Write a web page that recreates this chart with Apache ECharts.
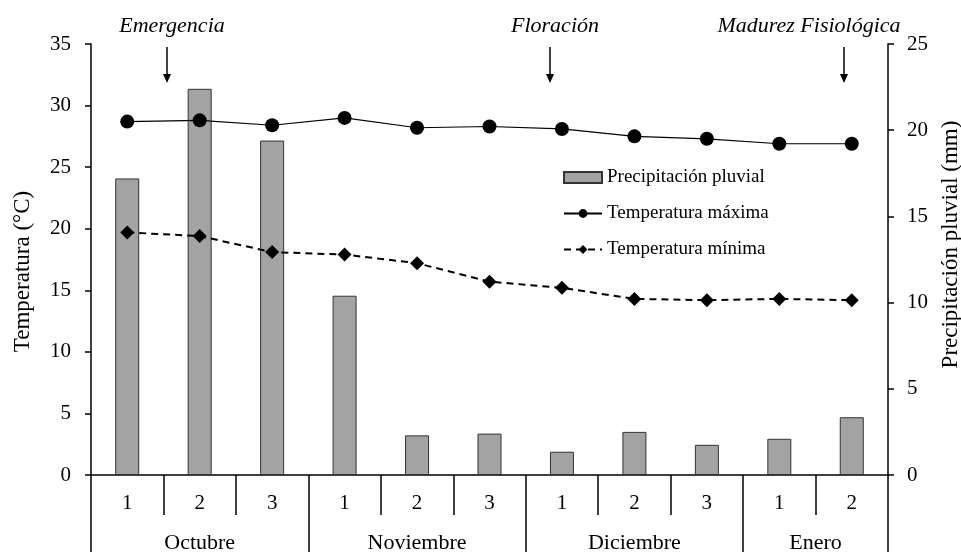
<!DOCTYPE html>
<html>
<head>
<meta charset="utf-8">
<script src="https://cdn.jsdelivr.net/npm/echarts@6/dist/echarts.min.js"></script>
<style>
  html, body { margin: 0; padding: 0; background: #fff; }
  #chart { width: 961px; height: 552px; }
</style>
</head>
<body>
<div id="chart"></div>
<script>
// decades of each month (ten-day periods)
const decades = ['1', '2', '3', '1', '2', '3', '1', '2', '3', '1', '2']
const months = ['Octubre', 'Noviembre', 'Diciembre', 'Enero']
const monthSpans = [3, 3, 3, 2]

// precipitation (mm), right axis
const precipitation = [17.2, 22.4, 19.4, 10.4, 2.3, 2.4, 1.35, 2.5, 1.75, 2.1, 3.35]
// temperatures (°C), left axis
const tempMax = [28.7, 28.8, 28.4, 29.0, 28.2, 28.3, 28.1, 27.5, 27.3, 26.9, 26.9]
const tempMin = [19.7, 19.4, 18.1, 17.9, 17.2, 15.7, 15.2, 14.3, 14.2, 14.3, 14.2]

const tempTicks = { min: 0, max: 35, interval: 5 }
const precTicks = { min: 0, max: 25, interval: 5 }

const serif = 'Liberation Serif'

// month boundaries and centers on a 0..11 scale
const monthBounds = [0]
const monthCenters = []
monthSpans.forEach(span => {
  const start = monthBounds[monthBounds.length - 1]
  monthCenters.push(start + span / 2)
  monthBounds.push(start + span)
})

const chart = echarts.init(document.getElementById('chart'))

/**
 * Arrow pointing down with a label above it
 */
function annotation(label, textX, arrowX) {
  return [
    {
      type: 'text',
      x: textX,
      y: 26,
      style: {
        text: label,
        font: 'italic 22px "Liberation Serif"',
        fill: '#000',
        align: 'center',
        verticalAlign: 'middle',
      },
    },
    {
      type: 'line',
      shape: { x1: arrowX, y1: 47, x2: arrowX, y2: 76 },
      style: { stroke: '#000', lineWidth: 1.5 },
    },
    {
      type: 'polygon',
      shape: { points: [[arrowX - 4, 74], [arrowX + 4, 74], [arrowX, 83]] },
      style: { fill: '#000' },
    },
  ]
}

const option = {
  animation: false,
  backgroundColor: '#fff',
  textStyle: { fontFamily: serif, color: '#000' },
  grid: {
    left: 91,
    right: 73,
    top: 44,
    bottom: 77,
    outerBoundsMode: 'none',
  },
  legend: {
    orient: 'vertical',
    left: 563,
    top: 168,
    padding: 0,
    itemGap: 17,
    itemWidth: 38,
    itemHeight: 11,
    textStyle: { fontFamily: serif, fontSize: 19, color: '#000' },
    data: [
      { name: 'Precipitación pluvial', icon: 'rect' },
      'Temperatura máxima',
      'Temperatura mínima',
    ],
  },
  xAxis: [
    {
      type: 'category',
      data: decades,
      boundaryGap: true,
      position: 'bottom',
      axisLine: { show: true, lineStyle: { color: '#000', width: 1.5 } },
      axisTick: { show: true, interval: 0, length: 40, lineStyle: { color: '#000', width: 1.5 } },
      axisLabel: { interval: 0, margin: 18, fontFamily: serif, fontSize: 21, color: '#000' },
      splitLine: { show: false },
    },
    {
      type: 'value',
      min: 0,
      max: decades.length,
      position: 'bottom',
      axisLine: { show: false },
      axisTick: {
        show: true,
        length: 77,
        customValues: monthBounds,
        lineStyle: { color: '#000', width: 1.5 },
      },
      axisLabel: {
        show: true,
        customValues: monthCenters,
        margin: 57,
        fontFamily: serif,
        fontSize: 22,
        color: '#000',
        formatter: (v) => months[monthCenters.indexOf(v)] || '',
      },
      splitLine: { show: false },
    },
  ],
  yAxis: [
    {
      type: 'value',
      position: 'left',
      min: tempTicks.min,
      max: tempTicks.max,
      interval: tempTicks.interval,
      name: 'Temperatura (°C)',
      nameLocation: 'middle',
      nameGap: 57,
      nameTextStyle: { fontFamily: serif, fontSize: 23, color: '#000', padding: [0, 24, 0, 0] },
      axisLine: { show: true, lineStyle: { color: '#000', width: 1.5 } },
      axisTick: { show: true, length: 6, lineStyle: { color: '#000', width: 1.5 } },
      axisLabel: { margin: 20, fontFamily: serif, fontSize: 21, color: '#000' },
      splitLine: { show: false },
    },
    {
      type: 'value',
      position: 'right',
      min: precTicks.min,
      max: precTicks.max,
      interval: precTicks.interval,
      name: 'Precipitación pluvial (mm)',
      nameLocation: 'middle',
      nameGap: 51,
      nameTextStyle: { fontFamily: serif, fontSize: 23, color: '#000', padding: [0, 0, 0, 30] },
      axisLine: { show: true, lineStyle: { color: '#000', width: 1.5 } },
      axisTick: { show: true, length: 6, lineStyle: { color: '#000', width: 1.5 } },
      axisLabel: { margin: 19, fontFamily: serif, fontSize: 21, color: '#000' },
      splitLine: { show: false },
    },
  ],
  series: [
    {
      name: 'Precipitación pluvial',
      type: 'bar',
      xAxisIndex: 0,
      yAxisIndex: 1,
      data: precipitation,
      barWidth: 24,
      itemStyle: { color: '#a3a3a3', borderColor: '#333', borderWidth: 1 },
      z: 1,
    },
    {
      name: 'Temperatura máxima',
      type: 'line',
      xAxisIndex: 0,
      yAxisIndex: 0,
      data: tempMax,
      symbol: 'circle',
      symbolSize: 14,
      itemStyle: { color: '#000' },
      lineStyle: { color: '#000', width: 1.2 },
      z: 3,
    },
    {
      name: 'Temperatura mínima',
      type: 'line',
      xAxisIndex: 0,
      yAxisIndex: 0,
      data: tempMin,
      symbol: 'diamond',
      symbolSize: 14,
      itemStyle: { color: '#000' },
      lineStyle: { color: '#000', width: 2, type: [7, 5] },
      z: 3,
    },
  ],
  graphic: [
    ...annotation('Emergencia', 172, 167),
    ...annotation('Floración', 555, 550),
    ...annotation('Madurez Fisiológica', 809, 844),
  ],
}

chart.setOption(option)
</script>
</body>
</html>
